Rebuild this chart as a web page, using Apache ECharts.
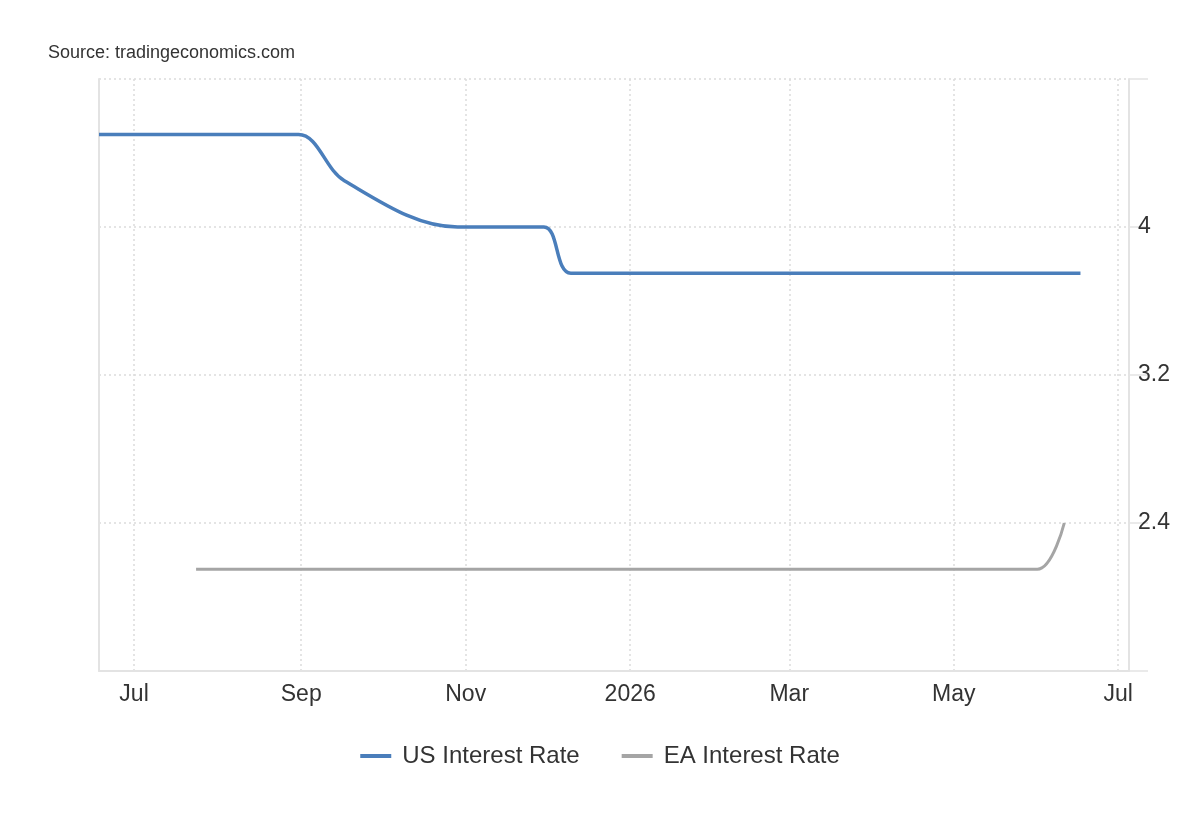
<!DOCTYPE html>
<html>
<head>
<meta charset="utf-8">
<script src="https://cdn.jsdelivr.net/npm/echarts@6/dist/echarts.min.js"></script>
<style>
  html, body { margin: 0; padding: 0; background: #fff; }
  #chart { width: 1200px; height: 820px; }
</style>
</head>
<body>
<div id="chart"></div>
<script>
// ---- data ----
const usDates  = ['2025-06-18','2025-07-30','2025-08-31','2025-09-17','2025-10-29','2025-11-30','2025-12-10','2026-01-28','2026-03-18','2026-04-29','2026-06-17'];
const usValues = [4.5, 4.5, 4.5, 4.25, 4.0, 4.0, 3.75, 3.75, 3.75, 3.75, 3.75];

const eaDates  = ['2025-07-24','2025-09-11','2025-10-30','2025-12-18','2026-02-05','2026-03-19','2026-04-30','2026-06-01','2026-06-11'];
const eaValues = [2.15, 2.15, 2.15, 2.15, 2.15, 2.15, 2.15, 2.15, 2.4];

const xTickDates  = ['2025-07-01','2025-09-01','2025-11-01','2026-01-01','2026-03-01','2026-05-01','2026-07-01'];
const xTickLabels = ['Jul','Sep','Nov','2026','Mar','May','Jul'];

const yTickValues = [1.6, 2.4, 3.2, 4.0, 4.8];
const yTickLabels = ['', '2.4', '3.2', '4', ''];

const seriesNames = ['US Interest Rate', 'EA Interest Rate'];

// ---- build ----
const ts = d => new Date(d + 'T00:00:00Z').getTime();
const xTickTs = xTickDates.map(ts);
const labelFor = v => {
  for (let i = 0; i < xTickTs.length; i++) {
    if (Math.abs(xTickTs[i] - v) < 1000) return xTickLabels[i];
  }
  return '';
};
const yLabelFor = v => {
  for (let i = 0; i < yTickValues.length; i++) {
    if (Math.abs(yTickValues[i] - v) < 1e-6) return yTickLabels[i];
  }
  return '';
};

const chart = echarts.init(document.getElementById('chart'), null, { renderer: 'canvas' });
const font = 'Arial, "Liberation Sans", Helvetica, sans-serif';

chart.setOption({
  backgroundColor: '#ffffff',
  animation: false,
  textStyle: { fontFamily: font },
  graphic: [{
    type: 'text',
    left: 48,
    top: 44,
    style: { text: 'Source: tradingeconomics.com', fill: '#333', font: '18px ' + font }
  }],
  grid: { left: 99, right: 71, top: 79, bottom: 149, containLabel: false },
  legend: {
    bottom: 47,
    left: 'center',
    icon: 'rect',
    itemWidth: 31,
    itemHeight: 4,
    itemGap: 42,
    textStyle: { fontSize: 24, color: '#333', padding: [0, 0, 0, 6], fontFamily: font },
    data: seriesNames
  },
  xAxis: {
    type: 'value',
    min: ts('2025-06-18'),
    max: ts('2026-07-05'),
    axisLine: { show: true, lineStyle: { color: '#e3e3e3', width: 2 } },
    axisTick: { show: false, customValues: xTickTs },
    axisLabel: {
      customValues: xTickTs,
      formatter: v => labelFor(v),
      fontSize: 23,
      color: '#333',
      margin: 12,
      fontFamily: font
    },
    splitLine: { show: true, lineStyle: { color: '#dcdcdc', width: 1.5, type: [2, 3] } }
  },
  yAxis: [{
    type: 'value',
    position: 'right',
    min: 1.6,
    max: 4.8,
    interval: 0.8,
    axisLine: { show: true, lineStyle: { color: '#e3e3e3', width: 2 } },
    axisTick: { show: true, length: 19, lineStyle: { color: '#e3e3e3', width: 1.5 } },
    axisLabel: {
      formatter: v => yLabelFor(v),
      fontSize: 23,
      color: '#333',
      margin: 9,
      fontFamily: font
    },
    splitLine: { show: true, lineStyle: { color: '#dcdcdc', width: 1.5, type: [2, 3] } }
  }, {
    type: 'value',
    position: 'left',
    min: 1.6,
    max: 4.8,
    interval: 0.8,
    axisLine: { show: true, lineStyle: { color: '#e3e3e3', width: 2 } },
    axisTick: { show: false },
    axisLabel: { show: false },
    splitLine: { show: false }
  }],
  series: [{
    name: seriesNames[0],
    type: 'line',
    yAxisIndex: 0,
    smooth: 0.35,
    showSymbol: false,
    symbol: 'none',
    lineStyle: { color: '#4a7ebb', width: 3.5 },
    itemStyle: { color: '#4a7ebb' },
    data: usDates.map((d, i) => [ts(d), usValues[i]])
  }, {
    name: seriesNames[1],
    type: 'line',
    yAxisIndex: 0,
    smooth: 0.35,
    showSymbol: false,
    symbol: 'none',
    lineStyle: { color: '#a5a5a5', width: 3 },
    itemStyle: { color: '#a5a5a5' },
    data: eaDates.map((d, i) => [ts(d), eaValues[i]])
  }]
});
</script>
</body>
</html>
